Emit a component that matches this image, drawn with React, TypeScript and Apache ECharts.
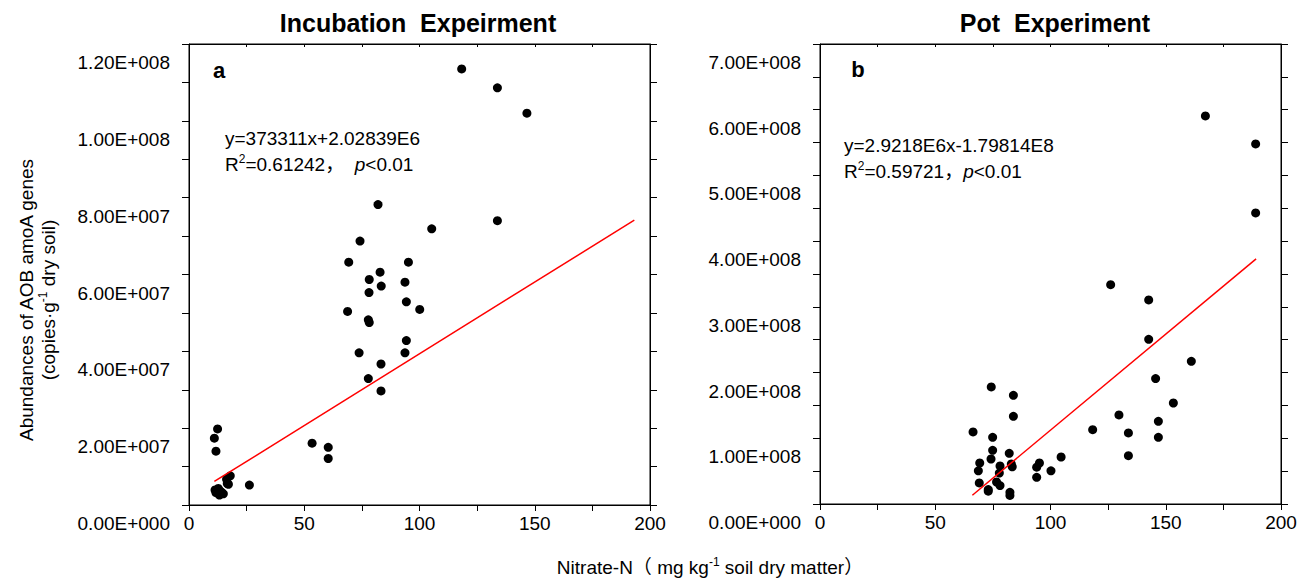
import React, { useEffect, useRef } from "react";
import * as echarts from "echarts";

// ---------- data ----------
// Panel a: Incubation experiment  (x: Nitrate-N, y: copies·g-1, values in 1E6)
const incX = [118.3, 133.8, 146.6, 82.0, 133.8, 105.3, 74.2, 69.3, 95.2, 82.9, 78.2, 83.4, 93.7, 78.1, 94.3, 68.8, 100.1, 77.8, 78.2, 94.3, 73.8, 93.7, 83.3, 77.8, 83.3, 12.4, 11.0, 11.7, 53.4, 60.4, 60.4, 17.9, 16.3, 17.1, 26.2, 11.3, 12.7, 14.2, 13.2, 14.9, 11.7, 13.4, 16.6];
const incY = [113.5, 108.6, 102.0, 78.2, 74.0, 71.9, 68.7, 63.2, 63.2, 60.6, 58.7, 57.0, 58.0, 55.3, 52.9, 50.4, 50.9, 48.2, 47.5, 42.8, 39.6, 39.6, 36.7, 32.9, 29.7, 19.8, 17.4, 14.0, 16.1, 15.0, 12.1, 7.6, 6.7, 5.4, 5.2, 3.9, 4.3, 3.3, 2.6, 2.9, 3.2, 3.7, 5.6];
// Panel b: Pot experiment (values in 1E8)
const potX = [167.2, 189.0, 189.0, 126.1, 142.6, 142.6, 161.1, 145.6, 153.3, 129.7, 146.8, 118.3, 133.8, 146.8, 133.8, 74.3, 83.9, 83.9, 66.4, 74.9, 74.9, 82.1, 74.2, 104.6, 69.3, 68.7, 100.2, 95.2, 94.0, 94.0, 78.1, 77.8, 83.0, 83.4, 69.1, 76.6, 78.1, 73.0, 73.0, 82.4, 82.4];
const potY = [5.906, 5.479, 4.429, 3.338, 3.105, 2.506, 2.171, 1.908, 1.537, 1.355, 1.258, 1.131, 1.081, 1.015, 0.736, 1.781, 1.654, 1.334, 1.096, 1.015, 0.817, 0.771, 0.685, 0.715, 0.624, 0.505, 0.505, 0.624, 0.56, 0.406, 0.58, 0.47, 0.61, 0.565, 0.32, 0.335, 0.28, 0.22, 0.195, 0.178, 0.13];

// Regression lines: [slope, intercept], x range of the drawn line
const incFit = [373311, 2.02839e6];
const incFitRange = [11.0, 193.2];
const potFit = [2.9218e6, -1.79814e8];
const potFitRange = [66.1, 189.2];

const titles = ["Incubation  Expeirment", "Pot  Experiment"];
const panelLetters = ["a", "b"];

const FONT = "'Liberation Sans', Arial, 'Noto Sans CJK SC', sans-serif";

function sci(v: number): string {
  if (v === 0) return "0.00E+000";
  const e = Math.floor(Math.log10(v) + 1e-9);
  const m = v / Math.pow(10, e);
  return m.toFixed(2) + "E+" + String(e).padStart(3, "0");
}

function fitLine(fit: number[], range: number[]) {
  return range.map((x) => [x, fit[0] * x + fit[1]]);
}

export default function App() {
  const ref = useRef<HTMLDivElement>(null);

  useEffect(() => {
    if (!ref.current) return;
    const chart = echarts.init(ref.current, undefined, { renderer: "svg" });

    const incData = incX.map((x, i) => [x, incY[i] * 1e6]);
    const potData = potX.map((x, i) => [x, potY[i] * 1e8]);

    const axisLine = { show: true, onZero: false, lineStyle: { color: "#000", width: 1 } };
    const xBase = (grid: number, pos: "bottom" | "top") => ({
      type: "value",
      gridIndex: grid,
      position: pos,
      min: 0,
      max: 200,
      interval: 25,
      axisLine,
      axisTick: { show: true, inside: pos === "top", length: pos === "top" ? 3 : 6, lineStyle: { color: "#000" } },
      splitLine: { show: false },
      axisLabel:
        pos === "bottom"
          ? {
              show: true,
              margin: 9,
              color: "#000",
              fontSize: 19,
              fontFamily: FONT,
              formatter: (v: number) => (Math.round(v) % 50 === 0 ? String(Math.round(v)) : ""),
            }
          : { show: false },
    });

    const yBase = (grid: number, pos: "left" | "right", max: number, interval: number) => ({
      type: "value",
      gridIndex: grid,
      position: pos,
      min: 0,
      max,
      interval,
      axisLine,
      axisTick: { show: true, inside: false, length: 7, lineStyle: { color: "#000" } },
      splitLine: { show: false },
      axisLabel:
        pos === "left"
          ? {
              show: true,
              margin: 19,
              color: "#000",
              fontSize: 19,
              fontFamily: FONT,
              verticalAlign: "top",
              lineHeight: 37,
              formatter: (v: number) => (Math.round(v / interval) % 2 === 0 ? sci(v) : ""),
            }
          : { show: false },
    });

    const annoRich = {
      sup: { fontSize: 12, lineHeight: 12, padding: [0, 0, 11, 0], fontFamily: FONT, fill: "#000" },
      it: { fontStyle: "italic", fontSize: 19, fontFamily: FONT, fill: "#000" },
    };

    const option: any = {
      animation: false,
      backgroundColor: "#fff",
      grid: [
        { left: 189, top: 44, width: 461, height: 461, show: true, borderColor: "#000", borderWidth: 1, backgroundColor: "transparent" },
        { left: 820, top: 44, width: 461, height: 460, show: true, borderColor: "#000", borderWidth: 1, backgroundColor: "transparent" },
      ],
      xAxis: [xBase(0, "bottom"), xBase(1, "bottom"), xBase(0, "top"), xBase(1, "top")],
      yAxis: [
        yBase(0, "left", 1.2e8, 1e7),
        yBase(1, "left", 7e8, 5e7),
        yBase(0, "right", 1.2e8, 1e7),
        yBase(1, "right", 7e8, 5e7),
      ],
      series: [
        {
          type: "scatter",
          xAxisIndex: 0,
          yAxisIndex: 0,
          data: incData,
          symbolSize: 9,
          itemStyle: { color: "#000", opacity: 1 },
          z: 3,
        },
        {
          type: "line",
          xAxisIndex: 0,
          yAxisIndex: 0,
          data: fitLine(incFit, incFitRange),
          symbol: "none",
          lineStyle: { color: "#ff0000", width: 1.5 },
          z: 4,
        },
        {
          type: "scatter",
          xAxisIndex: 1,
          yAxisIndex: 1,
          data: potData,
          symbolSize: 9,
          itemStyle: { color: "#000", opacity: 1 },
          z: 3,
        },
        {
          type: "line",
          xAxisIndex: 1,
          yAxisIndex: 1,
          data: fitLine(potFit, potFitRange),
          symbol: "none",
          lineStyle: { color: "#ff0000", width: 1.5 },
          z: 4,
        },
      ],
      graphic: [
        {
          type: "text",
          x: 418,
          y: 23,
          style: { text: titles[0], fontSize: 25, fontWeight: "bold", fontFamily: FONT, fill: "#000", align: "center", verticalAlign: "middle" },
        },
        {
          type: "text",
          x: 1055,
          y: 23,
          style: { text: titles[1], fontSize: 25, fontWeight: "bold", fontFamily: FONT, fill: "#000", align: "center", verticalAlign: "middle" },
        },
        {
          type: "text",
          x: 219,
          y: 70,
          style: { text: panelLetters[0], fontSize: 22, fontWeight: "bold", fontFamily: FONT, fill: "#000", align: "center", verticalAlign: "middle" },
        },
        {
          type: "text",
          x: 858,
          y: 69,
          style: { text: panelLetters[1], fontSize: 22, fontWeight: "bold", fontFamily: FONT, fill: "#000", align: "center", verticalAlign: "middle" },
        },
        {
          type: "text",
          x: 225,
          y: 151,
          style: {
            text: "y=373311x+2.02839E6\nR{sup|2}=0.61242，  {it|p}<0.01",
            rich: annoRich,
            fontSize: 19,
            lineHeight: 26,
            fontFamily: FONT,
            fill: "#000",
            align: "left",
            verticalAlign: "middle",
          },
        },
        {
          type: "text",
          x: 844,
          y: 158,
          style: {
            text: "y=2.9218E6x-1.79814E8\nR{sup|2}=0.59721，{it|p}<0.01",
            rich: annoRich,
            fontSize: 19,
            lineHeight: 26,
            fontFamily: FONT,
            fill: "#000",
            align: "left",
            verticalAlign: "middle",
          },
        },
        {
          type: "text",
          x: 37,
          y: 300,
          rotation: Math.PI / 2,
          style: {
            text: "Abundances of AOB amoA genes\n(copies·g{sup|-1} dry soil)",
            rich: {
              sup: { fontSize: 12, lineHeight: 12, padding: [0, 0, 11, 0], fontFamily: FONT, fill: "#000" },
            },
            fontSize: 19,
            lineHeight: 22,
            fontFamily: FONT,
            fill: "#000",
            align: "center",
            verticalAlign: "middle",
          },
        },
        {
          type: "text",
          x: 710,
          y: 567,
          style: {
            text: "Nitrate-N（ mg kg{sup|-1} soil dry matter）",
            rich: {
              sup: { fontSize: 12, lineHeight: 12, padding: [0, 0, 11, 0], fontFamily: FONT, fill: "#000" },
            },
            fontSize: 19,
            lineHeight: 22,
            fontFamily: FONT,
            fill: "#000",
            align: "center",
            verticalAlign: "middle",
          },
        },
      ],
    };

    chart.setOption(option);
    return () => chart.dispose();
  }, []);

  return <div ref={ref} style={{ position: "fixed", left: 0, top: 0, width: 1307, height: 582, background: "#fff" }} />;
}
